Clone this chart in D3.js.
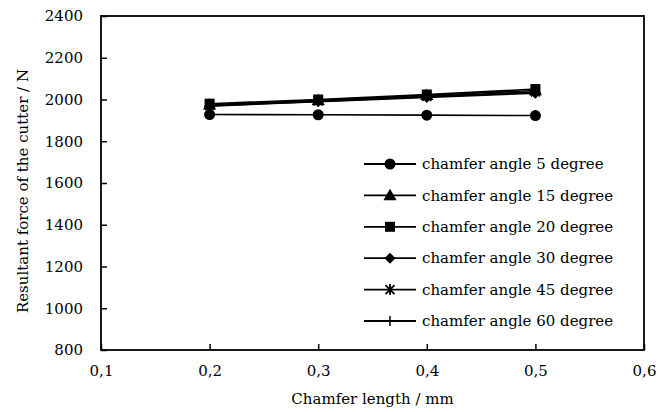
<!DOCTYPE html>
<html>
<head>
<meta charset="utf-8">
<script src="https://cdn.jsdelivr.net/npm/d3@7"></script>
<style>
  body { margin: 0; background: #fff; }
  svg { display: block; }
  text { font-family: "DejaVu Serif", "Liberation Serif", serif; fill: #000; }
</style>
</head>
<body>
<div id="chart"></div>
<script>
// Chamfer length (mm) on the x axis
const lengths = [0.2, 0.3, 0.4, 0.5];

// Resultant force (N) for each chamfer angle
const angles = [5, 15, 20, 30, 45, 60];
const force5 = [1928, 1927, 1925, 1923];
const force15 = [1975, 1996, 2020, 2043];
const force20 = [1980, 2000, 2024, 2050];
const force30 = [1968, 1990, 2010, 2030];
const force45 = [1972, 1993, 2015, 2036];
const force60 = [1970, 1991, 2013, 2034];
const markerTypes = ["circle", "triangle", "square", "diamond", "star", "plus"];

const xTicks = [0.1, 0.2, 0.3, 0.4, 0.5, 0.6];
const yTicks = [800, 1000, 1200, 1400, 1600, 1800, 2000, 2200, 2400];

const series = angles.map((a, i) => ({
    name: `chamfer angle ${a} degree`,
    values: [force5, force15, force20, force30, force45, force60][i],
    marker: markerTypes[i]
}));

const width = 660;
const height = 412;
const margin = { top: 16, right: 16, bottom: 62, left: 101 };
const fontSize = 15;

const svg = d3.select("#chart")
    .append("svg")
    .attr("width", width)
    .attr("height", height);

const x = d3.scaleLinear()
    .domain([0.1, 0.6])
    .range([margin.left, width - margin.right]);

const y = d3.scaleLinear()
    .domain([800, 2400])
    .range([height - margin.bottom, margin.top]);

// Axes with inward ticks
svg.append("g")
    .attr("transform", `translate(0,${height - margin.bottom})`)
    .call(d3.axisBottom(x)
        .tickValues(xTicks)
        .tickSizeInner(-6)
        .tickSizeOuter(0)
        .tickPadding(15)
        .tickFormat(d => d3.format(".1f")(d).replace(".", ",")))
    .call(g => g.select(".domain").remove())
    .call(g => g.selectAll("line").attr("stroke", "#000").attr("stroke-width", 1.5))
    .call(g => g.selectAll("text").attr("font-size", fontSize).attr("font-family", null));

svg.append("g")
    .attr("transform", `translate(${margin.left},0)`)
    .call(d3.axisLeft(y)
        .tickValues(yTicks)
        .tickSizeInner(-6)
        .tickSizeOuter(0)
        .tickPadding(18)
        .tickFormat(d3.format("d")))
    .call(g => g.select(".domain").remove())
    .call(g => g.selectAll("line").attr("stroke", "#000").attr("stroke-width", 1.5))
    .call(g => g.selectAll("text").attr("font-size", fontSize).attr("font-family", null));

// Plot frame
svg.append("rect")
    .attr("x", x(0.1))
    .attr("y", y(2400))
    .attr("width", x(0.6) - x(0.1))
    .attr("height", y(800) - y(2400))
    .attr("fill", "none")
    .attr("stroke", "#000")
    .attr("stroke-width", 1.8);

// Axis titles
svg.append("text")
    .attr("x", (x(0.1) + x(0.6)) / 2)
    .attr("y", 404)
    .attr("text-anchor", "middle")
    .attr("font-size", fontSize)
    .text("Chamfer length / mm");

svg.append("text")
    .attr("transform", `translate(28,${(y(800) + y(2400)) / 2 + 8}) rotate(-90)`)
    .attr("text-anchor", "middle")
    .attr("font-size", fontSize)
    .text("Resultant force of the cutter / N");

// Marker drawing
function drawMarker(g, type, cx, cy) {
    if (type === "circle") {
        g.append("circle").attr("cx", cx).attr("cy", cy).attr("r", 5.5).attr("fill", "#000");
    } else if (type === "triangle") {
        g.append("path")
            .attr("d", d3.symbol().type(d3.symbolTriangle).size(75)())
            .attr("transform", `translate(${cx},${cy + 1})`)
            .attr("fill", "#000");
    } else if (type === "square") {
        g.append("rect").attr("x", cx - 5).attr("y", cy - 5).attr("width", 10).attr("height", 10).attr("fill", "#000");
    } else if (type === "diamond") {
        g.append("path")
            .attr("d", `M${cx},${cy - 5.5}L${cx + 5.5},${cy}L${cx},${cy + 5.5}L${cx - 5.5},${cy}Z`)
            .attr("fill", "#000");
    } else if (type === "star") {
        const s = 4.5;
        g.append("path")
            .attr("d", `M${cx - s},${cy - s}L${cx + s},${cy + s}M${cx - s},${cy + s}L${cx + s},${cy - s}M${cx},${cy - s - 1}L${cx},${cy + s + 1}`)
            .attr("stroke", "#000").attr("stroke-width", 1.8).attr("fill", "none");
    } else if (type === "plus") {
        const s = 5;
        g.append("path")
            .attr("d", `M${cx - s},${cy}L${cx + s},${cy}M${cx},${cy - s}L${cx},${cy + s}`)
            .attr("stroke", "#000").attr("stroke-width", 1.5).attr("fill", "none");
    }
}

const line = d3.line()
    .x((d, i) => x(lengths[i]))
    .y(d => y(d));

// Series lines and markers
series.forEach(s => {
    const g = svg.append("g");
    g.append("path")
        .attr("d", line(s.values))
        .attr("fill", "none")
        .attr("stroke", "#000")
        .attr("stroke-width", 1.6);
    s.values.forEach((v, i) => drawMarker(g, s.marker, x(lengths[i]), y(v)));
});

// Legend
const legendX = 364;
const legendY = 164;
const legendStep = 31.4;
series.forEach((s, i) => {
    const g = svg.append("g");
    const ly = legendY + i * legendStep;
    g.append("line")
        .attr("x1", legendX).attr("x2", legendX + 52)
        .attr("y1", ly).attr("y2", ly)
        .attr("stroke", "#000").attr("stroke-width", 1.8);
    drawMarker(g, s.marker, legendX + 26, ly);
    g.append("text")
        .attr("x", legendX + 58)
        .attr("y", ly)
        .attr("dy", "0.35em")
        .attr("font-size", fontSize)
        .text(s.name);
});
</script>
</body>
</html>
